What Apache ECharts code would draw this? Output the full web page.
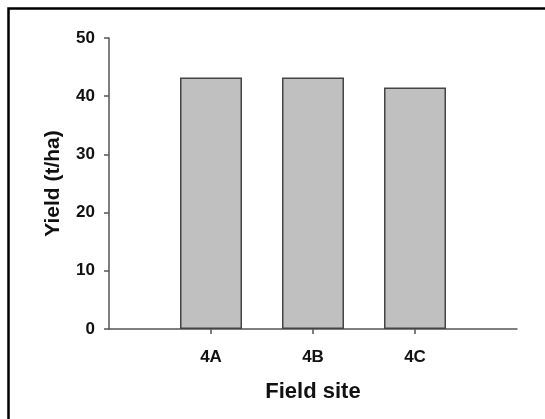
<!DOCTYPE html>
<html>
<head>
<meta charset="utf-8">
<script src="https://cdn.jsdelivr.net/npm/echarts@6/dist/echarts.min.js"></script>
<style>html,body{margin:0;padding:0;background:#fff;}#c{width:545px;height:419px;}</style>
</head>
<body>
<div id="c"></div>
<script>
const categories = ['', '4A', '4B', '4C', ''];
const yieldValues = [null, 43.2, 43.2, 41.5, null];
const yTicks = [0, 10, 20, 30, 40, 50];

const chart = echarts.init(document.getElementById('c'), null, {renderer: 'canvas'});
const font = 'Liberation Sans, Arial, sans-serif';
chart.setOption({
  animation: false,
  backgroundColor: '#fff',
  graphic: [{
    type: 'rect', left: 6, top: 6, silent: true,
    shape: {x: 0, y: 0, width: 600, height: 500},
    style: {fill: 'none', stroke: '#000', lineWidth: 2.5}
  }],
  grid: {left: 109, top: 38, right: 28, bottom: 90},
  xAxis: {
    type: 'category', data: categories, boundaryGap: false,
    name: 'Field site', nameLocation: 'middle', nameGap: 52,
    nameTextStyle: {fontFamily: font, fontWeight: 'bold', fontSize: 22, color: '#111'},
    axisLine: {lineStyle: {color: '#555', width: 1.5}},
    axisTick: {show: true, length: 5, inside: false, alignWithLabel: true,
      interval: (i, v) => v !== '', lineStyle: {color: '#555', width: 1.5}},
    axisLabel: {interval: 0, margin: 20, fontFamily: font, fontWeight: 'bold', fontSize: 17, color: '#111'},
    splitLine: {show: false}
  },
  yAxis: {
    type: 'value', min: yTicks[0], max: yTicks[yTicks.length - 1], interval: 10,
    name: 'Yield (t/ha)', nameLocation: 'middle', nameGap: 45,
    nameTextStyle: {fontFamily: font, fontWeight: 'bold', fontSize: 21, color: '#111'},
    axisLine: {show: true, lineStyle: {color: '#555', width: 1.5}},
    axisTick: {show: true, length: 5, lineStyle: {color: '#555', width: 1.5}},
    axisLabel: {margin: 14, fontFamily: font, fontWeight: 'bold', fontSize: 17, color: '#111'},
    splitLine: {show: false}
  },
  series: [{
    type: 'bar', data: yieldValues, barWidth: 62,
    itemStyle: {color: '#c0c0c0', borderColor: '#444', borderWidth: 1.5}
  }]
});
</script>
</body>
</html>
